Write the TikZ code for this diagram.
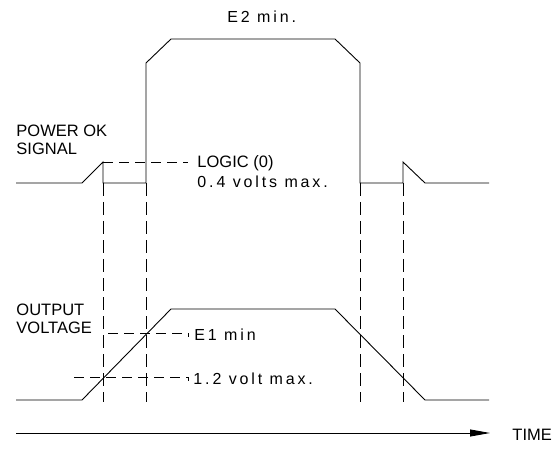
\documentclass[tikz,border=0pt]{standalone}
\usepackage{fontspec}
\setmainfont{Liberation Sans}
\newfontfamily\widefont[LetterSpace=18]{Liberation Sans}
\usetikzlibrary{arrows.meta}

\begin{document}
\begin{tikzpicture}[x=1pt,y=-1pt,line width=0.9pt,
  lbl/.style={anchor=base west,inner sep=0pt,font=\fontsize{16.5}{18}\selectfont},
  lblw/.style={lbl,font=\fontsize{16}{18}\widefont},
  lead/.style={dash pattern=on 10pt off 6pt},
  guide/.style={dash pattern=on 13pt off 6pt}]
  % Fix the page to the size of the reference
  \useasboundingbox (0,0) rectangle (554,449);

  % Labels
  \node[lblw] (e2)    at (227,23)  {E2 min.};
  \node[lbl]  (pok)   at (16,137)  {POWER OK};
  \node[lbl]  (sig)   at (16,155)  {SIGNAL};
  \node[lbl]  (logic) at (197,168) {LOGIC (0)};
  \node[lblw] (lmax)  at (197,188) {0.4 volts max.};
  \node[lbl]  (outp)  at (16,315)  {OUTPUT};
  \node[lbl]  (volt)  at (16,333)  {VOLTAGE};
  \node[lblw] (e1)    at (194,340) {E1 min};
  \node[lblw] (vmax)  at (193,384) {1.2 volt max.};
  \node[lbl]  (time)  at (512,440) {TIME};

  % Power OK signal
  \draw (16,183) -- (82,183) -- (103,162) -- (103,183) -- (146,183)
    -- (146,63) -- (171,39) -- (335,39) -- (360,63) -- (360,183)
    -- (403,183) -- (403,162) -- (425,183) -- (489,183);

  % Output voltage
  \draw (16,400) -- (82,400) -- (171,309) -- (335,309) -- (425,400) -- (489,400);

  % Timing guides
  \foreach \x in {103,146,360,403}
    \draw[guide] (\x,183) -- (\x,402);

  % Level leaders
  \draw[lead] (103,162) -- (188,162);
  \draw[lead] (108,333) -- (188,333);
  \draw (188,333) -- (188,337);
  \draw[lead] (74,377) -- (188,377);
  \draw (188,377) -- (188,381);

  % Time axis
  \coordinate (t0) at (16,433);
  \coordinate (t1) at (490,433);
  \draw[-{Triangle[length=20pt,width=7pt]}] (t0) -- (t1);
\end{tikzpicture}
\end{document}
